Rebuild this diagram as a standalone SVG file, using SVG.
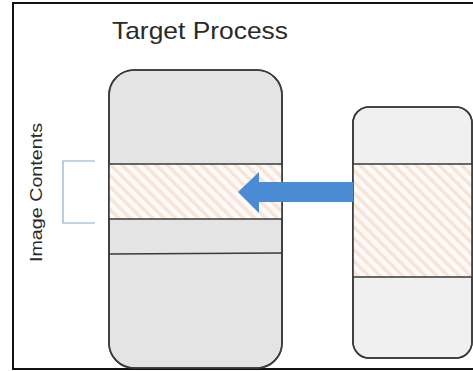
<svg xmlns="http://www.w3.org/2000/svg" width="473" height="371" viewBox="0 0 473 371">
  <style>
    .box { stroke: #3a3a3a; stroke-width: 1.6; }
    .divider { stroke: #3a3a3a; stroke-width: 1.6; fill: none; }
    .label { font-family: "Liberation Sans", Arial, sans-serif; fill: #2a2a2a; }
  </style>
  <defs>
    <pattern id="hatch" patternUnits="userSpaceOnUse" width="8" height="8" patternTransform="rotate(-45)">
      <rect width="8" height="8" fill="#fdfbfa"/>
      <rect x="0" y="0" width="3.5" height="8" fill="#f8e3d6"/>
    </pattern>
    <clipPath id="leftClip">
      <rect x="109" y="70" width="173" height="298" rx="25" ry="25"/>
    </clipPath>
    <clipPath id="rightClip">
      <rect x="353" y="107" width="119" height="251" rx="16" ry="16"/>
    </clipPath>
  </defs>

  <rect x="0" y="0" width="473" height="371" fill="#ffffff"/>

  <!-- frame -->
  <rect x="13" y="3" width="472" height="366" fill="none" stroke="#111111" stroke-width="2"/>

  <text class="label" x="112" y="39" font-size="24" textLength="176" lengthAdjust="spacingAndGlyphs">Target Process</text>

  <text class="label" transform="translate(42,262) rotate(-90)" font-size="17" textLength="139" lengthAdjust="spacingAndGlyphs">Image Contents</text>

  <!-- target process memory -->
  <g id="target-process">
    <rect class="box" x="109" y="70" width="173" height="298" rx="25" ry="25" fill="#e4e4e4"/>
    <rect x="109" y="164" width="173" height="55" fill="url(#hatch)" clip-path="url(#leftClip)"/>
    <path class="divider" d="M109,164 H282 M109,219 H282 M109,254 L282,253"/>
    <rect x="109" y="70" width="173" height="298" rx="25" ry="25" fill="none" class="box"/>
  </g>

  <!-- source image -->
  <g id="source-image">
    <rect class="box" x="353" y="107" width="119" height="251" rx="16" ry="16" fill="#f0f0f0"/>
    <rect x="353" y="164" width="119" height="113" fill="url(#hatch)" clip-path="url(#rightClip)"/>
    <path class="divider" d="M353,164 H472 M353,277 H472"/>
    <rect x="353" y="107" width="119" height="251" rx="16" ry="16" fill="none" class="box"/>
  </g>

  <g id="bracket">
    <path d="M95,161 L63,161 L63,223 L95,223" fill="none" stroke="#8eabc9" stroke-width="1.2"/>
  </g>

  <g id="connectors">
    <polygon points="353,182 259,182 259,172 238,192 259,213 259,202 353,202" fill="#4a8bd3"/>
  </g>
</svg>
